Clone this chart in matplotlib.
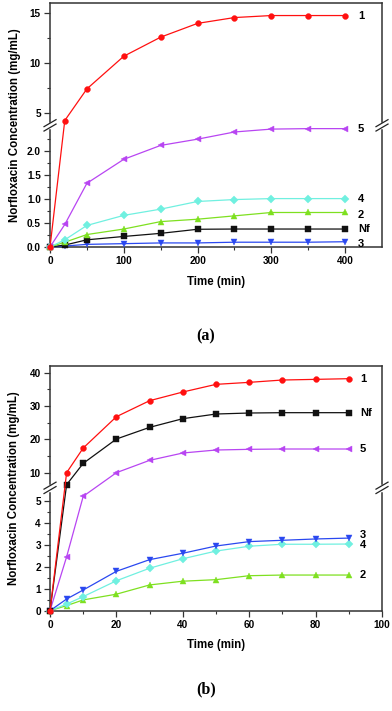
"""Norfloxacin release curves, two panels with broken y axes."""

import numpy as np
import matplotlib
matplotlib.use("Agg")
import matplotlib.pyplot as plt
from matplotlib.ticker import FixedLocator

# ---- data ----
time_a = [0, 20, 50, 100, 150, 200, 250, 300, 350, 400]
a_s1 = [0, 4.3, 7.45, 10.7, 12.6, 13.97, 14.55, 14.75, 14.75, 14.75]
a_s5 = [0, 0.47, 1.33, 1.83, 2.12, 2.25, 2.40, 2.46, 2.47, 2.47]
a_s4 = [0, 0.15, 0.45, 0.66, 0.79, 0.95, 0.99, 1.01, 1.01, 1.01]
a_s2 = [0, 0.10, 0.26, 0.375, 0.53, 0.58, 0.65, 0.72, 0.72, 0.72]
a_nf = [0, 0.04, 0.15, 0.22, 0.285, 0.37, 0.375, 0.375, 0.375, 0.375]
a_s3 = [0, 0.02, 0.055, 0.07, 0.085, 0.085, 0.10, 0.10, 0.10, 0.11]

time_b = [0, 5, 10, 20, 30, 40, 50, 60, 70, 80, 90]
b_s1 = [0, 10.0, 17.4, 26.8, 31.6, 34.2, 36.5, 37.1, 37.8, 38.0, 38.2]
b_nf = [0, 6.4, 12.8, 20.1, 23.6, 26.2, 27.6, 27.9, 28.0, 28.0, 28.0]
b_s5 = [0, 2.45, 5.2, 10.0, 13.7, 15.9, 16.8, 17.0, 17.1, 17.1, 17.1]
b_s3 = [0, 0.53, 0.94, 1.79, 2.32, 2.61, 2.94, 3.14, 3.20, 3.26, 3.30]
b_s4 = [0, 0.30, 0.64, 1.36, 1.93, 2.36, 2.71, 2.93, 3.02, 3.02, 3.03]
b_s2 = [0, 0.23, 0.49, 0.75, 1.17, 1.34, 1.41, 1.59, 1.62, 1.62, 1.62]

RED = "#ff1010"
BLACK = "#111111"
PURPLE = "#b845f2"
CYAN = "#70f0e0"
GREEN = "#7ee020"
BLUE = "#2a48f0"

plt.rcParams["font.family"] = ["Liberation Sans", "DejaVu Sans"]
plt.rcParams["font.weight"] = "bold"


def break_scale(lo_top, hi_bot, hi_top, f_lo, f_hi):
    """Piecewise linear y mapping: [0, lo_top] -> [0, f_lo], [hi_bot, hi_top] -> [f_hi, 1]."""
    def forward(y):
        y = np.asarray(y, dtype=float)
        return np.where(
            y <= lo_top, y / lo_top * f_lo,
            np.where(y >= hi_bot,
                     f_hi + (y - hi_bot) / (hi_top - hi_bot) * (1 - f_hi),
                     f_lo + (y - lo_top) / (hi_bot - lo_top) * (f_hi - f_lo)))

    def inverse(f):
        f = np.asarray(f, dtype=float)
        return np.where(
            f <= f_lo, f / f_lo * lo_top,
            np.where(f >= f_hi,
                     hi_bot + (f - f_hi) / (1 - f_hi) * (hi_top - hi_bot),
                     lo_top + (f - f_lo) / (f_hi - f_lo) * (hi_bot - lo_top)))

    return forward, inverse


def draw_break(ax, f_lo, f_hi):
    """White gap on both vertical spines plus the // marks."""
    bbox = ax.get_window_extent()
    w, h = bbox.width, bbox.height
    mid = (f_lo + f_hi) / 2
    dx, dy = 6 / w, 3.5 / h
    sep = 2.2 / h
    for x in (0, 1):
        ax.plot([x, x], [f_lo, f_hi], transform=ax.transAxes, color="white",
                lw=2.5, clip_on=False, zorder=5)
        for off in (-sep, sep):
            ax.plot([x - dx, x + dx], [mid + off - dy, mid + off + dy],
                    transform=ax.transAxes, color="#222222", lw=0.9,
                    clip_on=False, zorder=6)


def style_axes(ax):
    for side in ("left", "right", "top", "bottom"):
        ax.spines[side].set_linewidth(1.1)
        ax.spines[side].set_color("#333333")
    ax.tick_params(which="major", direction="out", length=4, width=0.9,
                   labelsize=7.2, pad=2.5, color="#333333")
    ax.tick_params(which="minor", direction="out", length=2.2, width=0.8,
                   color="#333333")
    ax.tick_params(top=False, right=False, which="both")


def plot_series(ax, t, y, color, marker, label, label_x, offset=0):
    ax.plot(t, y, color=color, lw=0.9, marker=marker, markersize=4.2,
            markeredgewidth=0.3, markeredgecolor=color, clip_on=False, zorder=3)
    ax.annotate(label, xy=(label_x, y[-1]), xycoords=("axes fraction", "data"),
                xytext=(0, offset), textcoords="offset points",
                ha="left", va="center", fontsize=8, fontweight="bold")


fig = plt.figure(figsize=(3.92, 7.11), dpi=100)

# ---- panel (a) ----
ax_a = fig.add_axes([0.1276, 0.6526, 0.8469, 0.3432])
fa_lo, fa_hi = 0.491, 0.506
fwd, inv = break_scale(2.5, 4.0, 16.0, fa_lo, fa_hi)
ax_a.set_yscale("function", functions=(fwd, inv))
ax_a.set_ylim(0, 16)
ax_a.set_xlim(0, 450)
ax_a.yaxis.set_major_locator(FixedLocator([0, 0.5, 1.0, 1.5, 2.0, 5, 10, 15]))
ax_a.yaxis.set_minor_locator(FixedLocator([0.25, 0.75, 1.25, 1.75, 2.25, 7.5, 12.5]))
ax_a.set_yticklabels(["0.0", "0.5", "1.0", "1.5", "2.0", "5", "10", "15"])
ax_a.xaxis.set_major_locator(FixedLocator([0, 100, 200, 300, 400]))
ax_a.xaxis.set_minor_locator(FixedLocator([50, 150, 250, 350]))
style_axes(ax_a)

lx_a = 0.928
plot_series(ax_a, time_a, a_s3, BLUE, "v", "3", lx_a, -1.5)
plot_series(ax_a, time_a, a_nf, BLACK, "s", "Nf", lx_a)
plot_series(ax_a, time_a, a_s2, GREEN, "^", "2", lx_a, -1.5)
plot_series(ax_a, time_a, a_s4, CYAN, "D", "4", lx_a)
plot_series(ax_a, time_a, a_s5, PURPLE, "<", "5", lx_a)
plot_series(ax_a, time_a, a_s1, RED, "o", "1", lx_a)

ax_a.set_xlabel("Time (min)", fontsize=8.3, fontweight="bold", labelpad=7)
ax_a.set_ylabel("Norfloxacin Concentration (mg/mL)", fontsize=8.3,
                fontweight="bold", labelpad=4)

# ---- panel (b) ----
ax_b = fig.add_axes([0.1276, 0.1411, 0.8469, 0.3441])
fb_lo, fb_hi = 0.4945, 0.5096
fwd, inv = break_scale(5.5, 6.0, 42.0, fb_lo, fb_hi)
ax_b.set_yscale("function", functions=(fwd, inv))
ax_b.set_ylim(0, 42)
ax_b.set_xlim(0, 100)
ax_b.yaxis.set_major_locator(FixedLocator([0, 1, 2, 3, 4, 5, 10, 20, 30, 40]))
ax_b.yaxis.set_minor_locator(FixedLocator([0.5, 1.5, 2.5, 3.5, 4.5, 15, 25, 35]))
ax_b.set_yticklabels(["0", "1", "2", "3", "4", "5", "10", "20", "30", "40"])
ax_b.xaxis.set_major_locator(FixedLocator([0, 20, 40, 60, 80, 100]))
ax_b.xaxis.set_minor_locator(FixedLocator([10, 30, 50, 70, 90]))
style_axes(ax_b)

lx_b = 0.934
plot_series(ax_b, time_b, b_s2, GREEN, "^", "2", lx_b)
plot_series(ax_b, time_b, b_s4, CYAN, "D", "4", lx_b, -0.5)
plot_series(ax_b, time_b, b_s3, BLUE, "v", "3", lx_b, 2.5)
plot_series(ax_b, time_b, b_s5, PURPLE, "<", "5", lx_b)
plot_series(ax_b, time_b, b_nf, BLACK, "s", "Nf", lx_b)
plot_series(ax_b, time_b, b_s1, RED, "o", "1", lx_b)

ax_b.set_xlabel("Time (min)", fontsize=8.3, fontweight="bold", labelpad=7)
ax_b.set_ylabel("Norfloxacin Concentration (mg/mL)", fontsize=8.3,
                fontweight="bold", labelpad=7)

draw_break(ax_a, fa_lo, fa_hi)
draw_break(ax_b, fb_lo, fb_hi)

fig.text(206 / 392, 1 - 336 / 711, "(a)", ha="center", va="center",
         fontsize=11.5, fontweight="bold", family="Liberation Serif")
fig.text(206 / 392, 1 - 689 / 711, "(b)", ha="center", va="center",
         fontsize=11.5, fontweight="bold", family="Liberation Serif")

fig.savefig("out.png", dpi=100)
